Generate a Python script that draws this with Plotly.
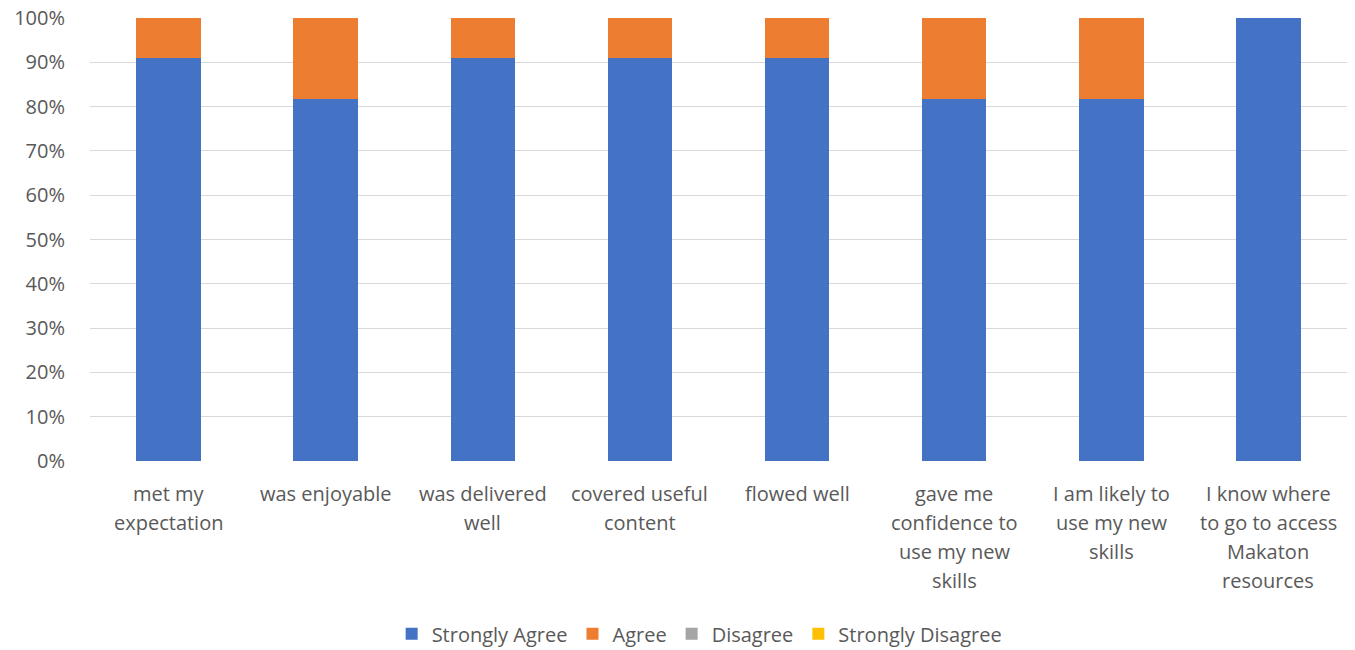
import plotly.graph_objects as go

categories = [
    "met my|expectation",
    "was enjoyable",
    "was delivered|well",
    "covered useful|content",
    "flowed well",
    "gave me|confidence to|use my new|skills",
    "I am likely to|use my new|skills",
    "I know where|to go to access|Makaton|resources",
]
strongly_agree = [10/11, 9/11, 10/11, 10/11, 10/11, 9/11, 9/11, 1.0]
agree = [1/11, 2/11, 1/11, 1/11, 1/11, 2/11, 2/11, 0.0]
disagree = [0, 0, 0, 0, 0, 0, 0, 0]
strongly_disagree = [0, 0, 0, 0, 0, 0, 0, 0]

series = [
    ("Strongly Agree", strongly_agree, "#4472C4"),
    ("Agree", agree, "#ED7D31"),
    ("Disagree", disagree, "#A5A5A5"),
    ("Strongly Disagree", strongly_disagree, "#FFC000"),
]
y_ticks = [i / 10 for i in range(11)]

FONT = "Open Sans"
TXT = "#595959"
FS = 20

fig = go.Figure()
for name, vals, col in series:
    fig.add_trace(go.Bar(x=categories, y=vals, name=name, marker_color=col,
                         marker_line_width=0))

annotations = []
for cat in categories:
    for i, line in enumerate(cat.split("|")):
        annotations.append(dict(x=cat, xref="x", y=0, yref="paper", text=line,
                                showarrow=False, yanchor="middle",
                                yshift=-32 - 29 * i,
                                font=dict(family=FONT, size=FS, color=TXT)))

fig.update_layout(
    barmode="stack",
    bargap=0.59,
    width=1355, height=650,
    margin=dict(l=90, r=8, t=18, b=189, autoexpand=False),
    paper_bgcolor="white", plot_bgcolor="white",
    font=dict(family=FONT, size=FS, color=TXT),
    showlegend=True,
    legend=dict(orientation="h", x=0.485, xanchor="center", y=-0.39,
                yanchor="middle", traceorder="normal",
                font=dict(family=FONT, size=FS, color=TXT),
                itemsizing="constant"),
    annotations=annotations,
)
fig.update_xaxes(showticklabels=False, showgrid=False, zeroline=False,
                 showline=False, ticks="")
fig.update_yaxes(range=[0, 1], tickmode="array", tickvals=y_ticks,
                 tickformat=".0%", showgrid=True,
                 gridcolor="#D9D9D9", gridwidth=1, zeroline=False,
                 showline=False, ticks="", ticklabelstandoff=24,
                 ticklabeloverflow="allow",
                 tickfont=dict(family=FONT, size=FS, color=TXT))

fig.write_html("out.html",
               config={"displayModeBar": False},
               post_script="document.body.style.margin='0px';")
